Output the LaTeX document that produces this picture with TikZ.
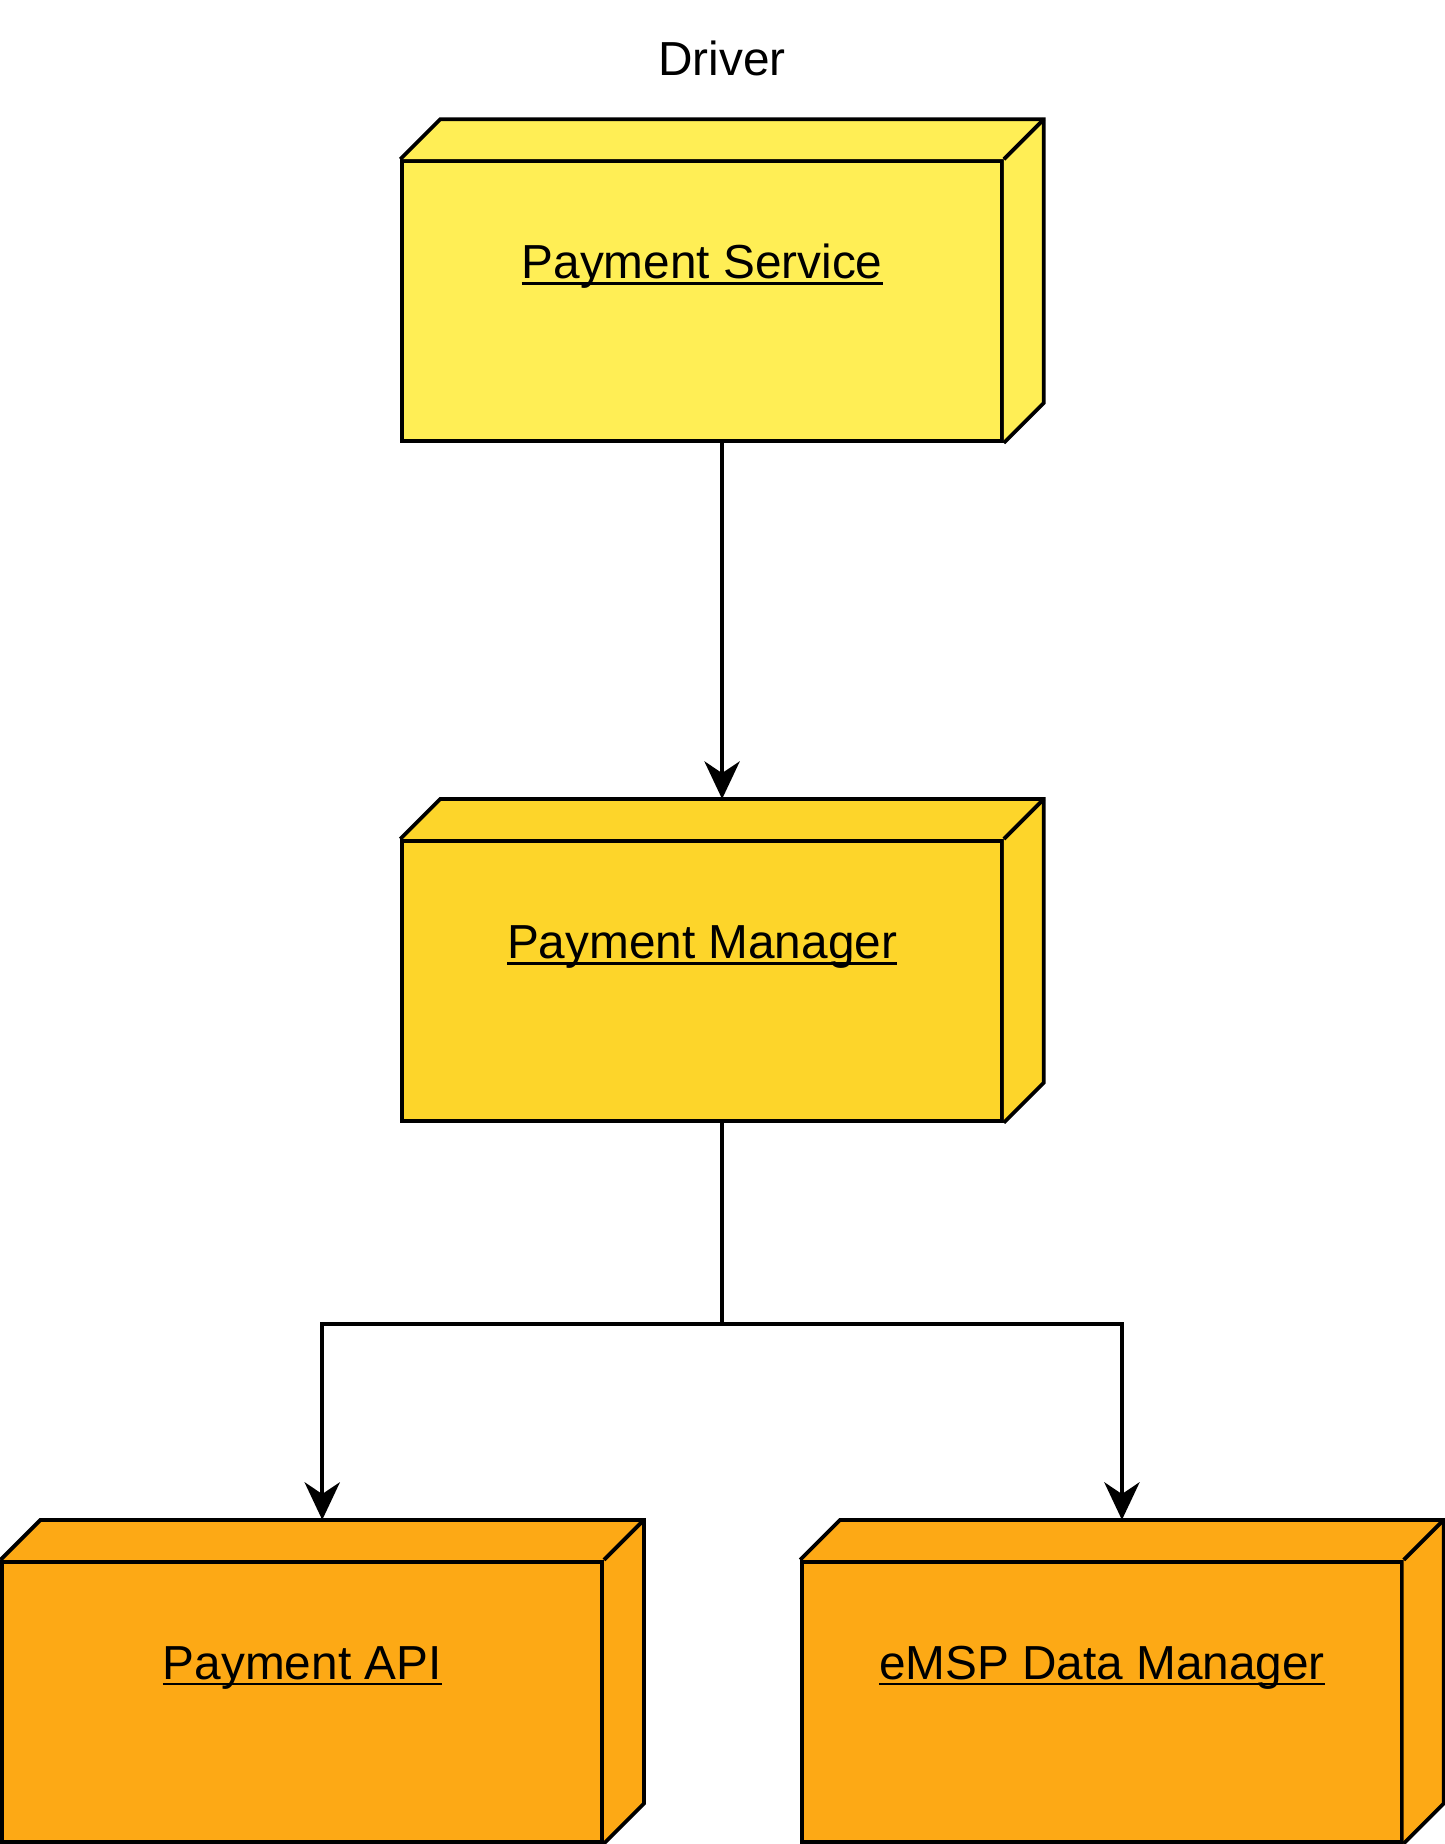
\documentclass[tikz,border=0pt]{standalone}
\usepackage{fontspec}
\setmainfont{Liberation Sans}
\usepackage{xcolor}
\usepackage{tikz}
\usetikzlibrary{arrows.meta, positioning, calc}
\definecolor{svcyellow}{HTML}{FFEE55}
\definecolor{mgryellow}{HTML}{FDD52A}
\definecolor{extorange}{HTML}{FDA915}
\newcommand{\ulabel}[1]{\leavevmode\setbox0\hbox{#1}%
  \rlap{\vrule height -1.5pt depth 2.6pt width \wd0}\box0}
\tikzstyle{unit}=[draw, line width=1.6pt, inner sep=0pt, minimum width=255pt,
text height=50pt, text depth=69pt, font=\fontsize{20.3}{24}\selectfont]
\tikzstyle{link}=[line width=1.5pt, -{Stealth[length=16pt,width=15pt,inset=5pt]}]

\begin{document}
\begin{tikzpicture}[x=0.5pt,y=-0.5pt]
\useasboundingbox (0,0) rectangle (1228,1568);
\node[font=\fontsize{20.3}{24}\selectfont] (drv) at (614,50) {Driver};

\node[unit, fill=svcyellow] (ps) at (597,256) {\ulabel{Payment Service}};
\node[unit, fill=mgryellow] (pm) at (597,834) {\ulabel{Payment Manager}};
\node[unit, fill=extorange] (api) at (257,1447) {\ulabel{Payment API}};
\node[unit, fill=extorange] (emsp) at (937,1447) {\ulabel{eMSP Data Manager}};

% top and side faces
\foreach \n/\c in {ps/svcyellow, pm/mgryellow, api/extorange, emsp/extorange}{
  \fill[\c] (\n.north west) -- ++(34,-34)
    -- ([shift={(34,-34)}]\n.north east) -- ([shift={(34,-34)}]\n.south east)
    -- (\n.south east) -- (\n.north east) -- cycle;
  \draw[line width=1.6pt] (\n.north west) -- ++(34,-34)
    -- ([shift={(34,-34)}]\n.north east) -- ([shift={(34,-34)}]\n.south east)
    -- (\n.south east);
  \draw[line width=1.6pt] (\n.north east) -- ++(34,-34);
  \coordinate (\n-top) at ([shift={(17,-34)}]\n.north);
}

\draw[link] (ps-top |- ps.south) -- (pm-top);
\draw[link] (pm-top |- pm.south) -- ++(0,171) -| (api-top);
\draw[link] (pm-top |- pm.south) -- ++(0,171) -| (emsp-top);
\end{tikzpicture}
\end{document}
